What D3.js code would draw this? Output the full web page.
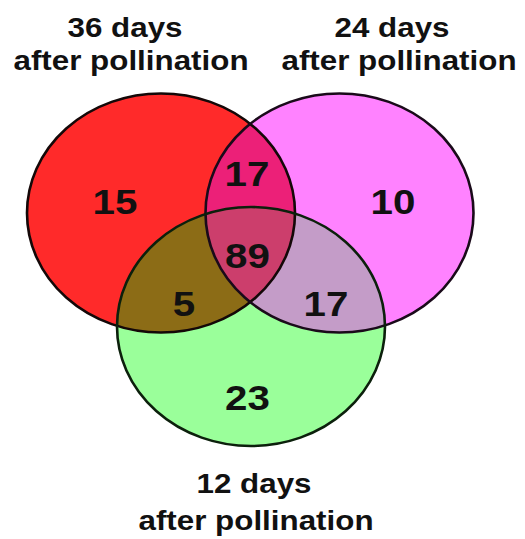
<!DOCTYPE html>
<html>
<head>
<meta charset="utf-8">
<script src="https://cdn.jsdelivr.net/npm/d3@7"></script>
<style>
  html, body { margin: 0; padding: 0; background: #ffffff; }
  svg { display: block; }
</style>
</head>
<body>
<script>
// ---------- data ----------
const setNames = ["36 days", "24 days", "12 days"];
const setSubtitle = "after pollination";
const setColors = ["#ff2a2a", "#ff82ff", "#9aff9a"];
// region counts: keys are the sets contained (0 = 36d, 1 = 24d, 2 = 12d)
const regionKeys   = ["0", "1", "2", "01", "02", "12", "012"];
const regionCounts = [15, 10, 23, 17, 5, 17, 89];
const regionColors = ["#ff2a2a", "#ff82ff", "#9aff9a", "#ec2078", "#8c6c16", "#c49cc8", "#cc3e6c"];

// ---------- layout ----------
const W = 525, H = 539;
const sx = 1.12; // horizontal stretch of the original figure
const x = d3.scaleLinear().domain([0, 1]).range([0, sx]);
const centers = [[161, 213], [339.5, 213], [251, 326.5]];
const rx = 134, ry = 119.5;
const labelPos = {"0": [115, 201.5], "1": [393, 201.5], "2": [247.5, 397], "01": [247, 173.5],
                  "02": [184, 303.5], "12": [326, 303.5], "012": [247.5, 255]};
const titlePos = [ [[125, 37], [131, 70]], [[392, 37], [399, 70]], [[254, 493], [256, 530]] ];

const svg = d3.select("body").append("svg").attr("width", W).attr("height", H);
const defs = svg.append("defs");

centers.forEach((c, i) => {
  defs.append("clipPath").attr("id", "clip" + i)
    .append("ellipse").attr("cx", c[0]).attr("cy", c[1]).attr("rx", rx).attr("ry", ry);
});

const fills = svg.append("g");
// base ellipses
centers.forEach((c, i) => {
  fills.append("ellipse").attr("cx", c[0]).attr("cy", c[1]).attr("rx", rx).attr("ry", ry)
    .attr("fill", setColors[i]);
});
// pairwise intersections then triple
function paintRegion(key, color) {
  const ids = key.split("").map(Number);
  let g = fills;
  for (let k = 0; k < ids.length - 1; k++) {
    g = g.append("g").attr("clip-path", `url(#clip${ids[k]})`);
  }
  const c = centers[ids[ids.length - 1]];
  g.append("ellipse").attr("cx", c[0]).attr("cy", c[1]).attr("rx", rx).attr("ry", ry).attr("fill", color);
}
regionKeys.forEach((k, i) => { if (k.length === 2) paintRegion(k, regionColors[i]); });
regionKeys.forEach((k, i) => { if (k.length === 3) paintRegion(k, regionColors[i]); });

// outlines
const strokeCols = ["#140808", "#1a0a1a", "#0c200c"];
centers.forEach((c, i) => {
  svg.append("ellipse").attr("cx", c[0]).attr("cy", c[1]).attr("rx", rx).attr("ry", ry)
    .attr("fill", "none").attr("stroke", strokeCols[i]).attr("stroke-width", 2.6);
});

const fontFam = "'Liberation Sans', Arial, sans-serif";
// region numbers
regionKeys.forEach((k, i) => {
  const p = labelPos[k];
  svg.append("text")
    .attr("transform", `translate(${p[0]},${p[1]}) scale(${x(1)},1)`)
    .attr("text-anchor", "middle").attr("dy", "0.36em")
    .attr("font-family", fontFam).attr("font-weight", "bold").attr("font-size", 36)
    .attr("fill", "#111").text(regionCounts[i]);
});

// set titles
setNames.forEach((name, i) => {
  [name, setSubtitle].forEach((t, j) => {
    const p = titlePos[i][j];
    svg.append("text")
      .attr("transform", `translate(${p[0]},${p[1]}) scale(${x(1)},1)`)
      .attr("text-anchor", "middle")
      .attr("font-family", fontFam).attr("font-weight", "bold").attr("font-size", 28)
      .attr("fill", "#111").text(t);
  });
});
</script>
</body>
</html>
